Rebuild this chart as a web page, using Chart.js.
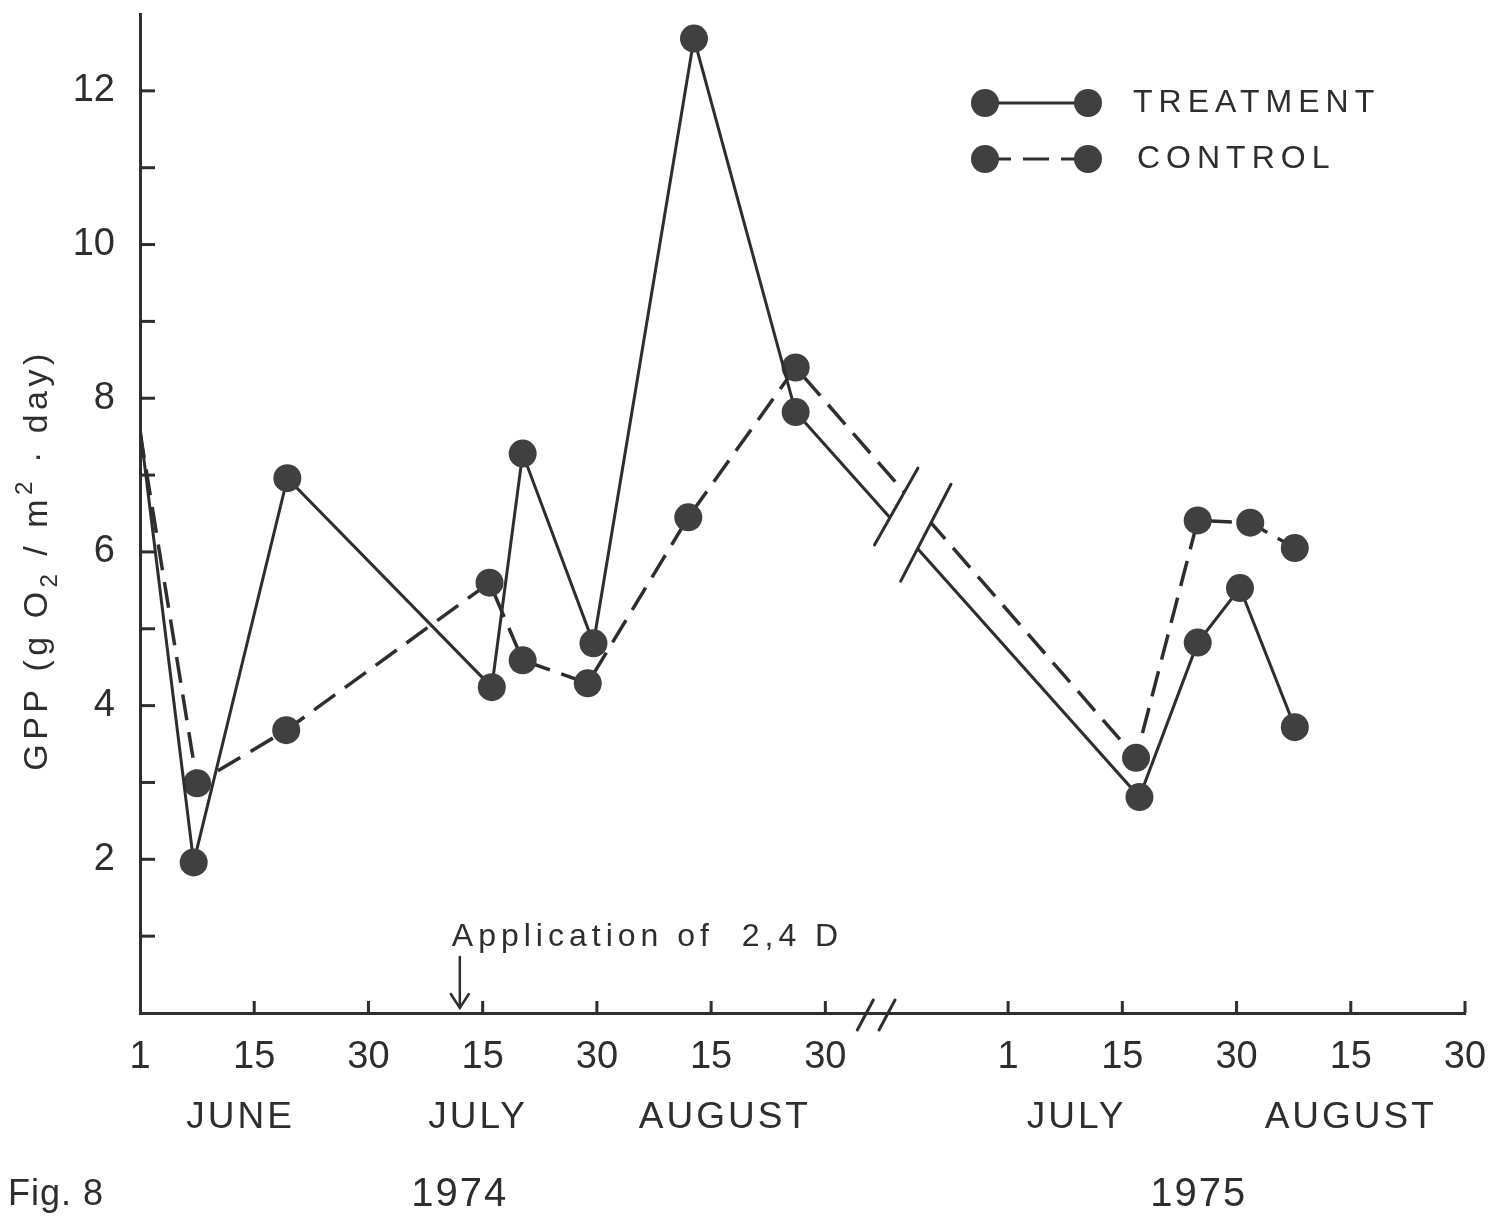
<!DOCTYPE html>
<html>
<head>
<meta charset="utf-8">
<script src="https://cdn.jsdelivr.net/npm/chart.js@4.4.0/dist/chart.umd.min.js"></script>
<style>
  html, body { margin: 0; padding: 0; background: #fff; }
  #wrap { width: 1497px; height: 1218px; }
</style>
</head>
<body>
<div id="wrap"><canvas id="gppChart" width="1497" height="1218"></canvas></div>
<script>
// ===== DATA =====
// x positions are in "half-month tick" units: 0 = 1 June 1974, each tick = one half month
const xTickPos = [0, 1, 2, 3, 4, 5, 6, 7.6, 8.6, 9.6, 10.6, 11.6];
const xTickLabels = ['1', '15', '30', '15', '30', '15', '30', '1', '15', '30', '15', '30'];
const yLabelled = [2, 4, 6, 8, 10, 12];

const treatmentX = [0, 0.47, 1.29, 3.08, 3.35, 3.97, 4.85, 5.74, 8.75, 9.26, 9.63, 10.11];
const treatmentY = [7.62, 1.96, 6.96, 4.24, 7.28, 4.81, 12.68, 7.82, 2.81, 4.82, 5.53, 3.72];
const controlX = [0, 0.50, 1.28, 3.06, 3.35, 3.92, 4.80, 5.74, 8.72, 9.26, 9.72, 10.11];
const controlY = [7.56, 2.99, 3.68, 5.60, 4.59, 4.29, 6.45, 8.40, 3.32, 6.41, 6.38, 6.05];

const monthLabels = ['JUNE', 'JULY', 'AUGUST', 'JULY', 'AUGUST'];
const monthPos = [0.88, 2.96, 5.12, 8.2, 10.6];
const yearLabels = ['1974', '1975'];
const yearPos = [2.8, 9.27];
const applicationPos = 2.8;   // arrow for application of 2,4 D

const FONT = "'Liberation Sans', Arial, sans-serif";
const INK = '#2e2e2e';
const DOT = '#404040';

function toPoints(xs, ys) {
    return xs.map(function(x, i) { return { x: x, y: ys[i] }; });
}
function markerSizes(xs) {
    // first value starts on the axis without a marker
    return xs.map(function(x, i) { return i === 0 ? 0 : 14; });
}

// ===== DECORATION PLUGIN =====
const decorPlugin = {
    id: 'decor',
    afterDatasetsDraw(chart) {
        const { ctx, scales: { x, y } } = chart;
        // break in the lines between 1974 and 1975
        const b1 = [x.getPixelForValue(6.81), y.getPixelForValue(7.09), x.getPixelForValue(6.43), y.getPixelForValue(6.09)];
        const b2 = [x.getPixelForValue(7.10), y.getPixelForValue(6.88), x.getPixelForValue(6.66), y.getPixelForValue(5.62)];
        ctx.save();
        ctx.fillStyle = '#fff';
        ctx.beginPath();
        ctx.moveTo(b1[0], b1[1]);
        ctx.lineTo(b2[0], b2[1]);
        ctx.lineTo(b2[2], b2[3]);
        ctx.lineTo(b1[2], b1[3]);
        ctx.closePath();
        ctx.fill();
        ctx.strokeStyle = INK;
        ctx.lineWidth = 3;
        ctx.lineCap = 'round';
        [b1, b2].forEach(function(b) {
            ctx.beginPath();
            ctx.moveTo(b[0], b[1]);
            ctx.lineTo(b[2], b[3]);
            ctx.stroke();
        });
        ctx.restore();
    },
    afterDraw(chart) {
        const { ctx, scales: { x, y }, chartArea } = chart;
        ctx.save();
        ctx.strokeStyle = INK;
        ctx.lineWidth = 3;
        ctx.lineCap = 'butt';

        // inner tick marks
        for (let v = 1; v <= 12; v++) {
            const py = y.getPixelForValue(v);
            ctx.beginPath();
            ctx.moveTo(chartArea.left, py);
            ctx.lineTo(chartArea.left + 15, py);
            ctx.stroke();
        }
        xTickPos.forEach(function(v, i) {
            if (i === 0) return;
            const px = x.getPixelForValue(v);
            ctx.beginPath();
            ctx.moveTo(px, chartArea.bottom);
            ctx.lineTo(px, chartArea.bottom - 12);
            ctx.stroke();
        });

        // axis break marks
        ctx.lineCap = 'round';
        [6.35, 6.54].forEach(function(v) {
            const px = x.getPixelForValue(v);
            ctx.beginPath();
            ctx.moveTo(px - 8, chartArea.bottom + 17);
            ctx.lineTo(px + 8, chartArea.bottom - 13);
            ctx.stroke();
        });

        // application arrow
        const ax = x.getPixelForValue(applicationPos);
        ctx.lineWidth = 2.5;
        ctx.beginPath();
        ctx.moveTo(ax, chartArea.bottom - 56);
        ctx.lineTo(ax, chartArea.bottom - 5);
        ctx.moveTo(ax - 9, chartArea.bottom - 19);
        ctx.lineTo(ax, chartArea.bottom - 5);
        ctx.lineTo(ax + 9, chartArea.bottom - 19);
        ctx.stroke();

        ctx.fillStyle = INK;
        ctx.textBaseline = 'middle';

        ctx.font = '32px ' + FONT;
        ctx.letterSpacing = '5px';
        ctx.textAlign = 'left';
        ctx.fillText('Application of  2,4 D', ax - 8, chartArea.bottom - 76);

        // month and year labels
        ctx.font = '37px ' + FONT;
        ctx.letterSpacing = '3px';
        ctx.textAlign = 'center';
        monthLabels.forEach(function(m, i) {
            ctx.fillText(m, x.getPixelForValue(monthPos[i]), 1118);
        });
        ctx.font = '40px ' + FONT;
        ctx.letterSpacing = '2px';
        yearLabels.forEach(function(t, i) {
            ctx.fillText(t, x.getPixelForValue(yearPos[i]), 1195);
        });
        ctx.textAlign = 'left';
        ctx.font = '36px ' + FONT;
        ctx.letterSpacing = '1px';
        ctx.fillText('Fig. 8', 8, 1195);

        // legend
        const rows = [
            { label: 'TREATMENT', ds: 0, y: 103, tx: 1133 },
            { label: 'CONTROL', ds: 1, y: 159, tx: 1137 }
        ];
        rows.forEach(function(r) {
            const set = chart.data.datasets[r.ds];
            ctx.strokeStyle = set.borderColor;
            ctx.lineWidth = 3;
            ctx.lineCap = 'butt';
            ctx.setLineDash(set.borderDash || []);
            ctx.beginPath();
            ctx.moveTo(985, r.y);
            ctx.lineTo(1088, r.y);
            ctx.stroke();
            ctx.setLineDash([]);
            ctx.fillStyle = DOT;
            [985, 1088].forEach(function(cx) {
                ctx.beginPath();
                ctx.arc(cx, r.y, 14, 0, Math.PI * 2);
                ctx.fill();
            });
            ctx.fillStyle = INK;
            ctx.font = '32px ' + FONT;
            ctx.letterSpacing = '6px';
            ctx.textAlign = 'left';
            ctx.fillText(r.label, r.tx, r.y);
        });

        // y axis title with sub/superscript
        const parts = [
            { t: 'GPP (g O', s: 34, dy: 0 },
            { t: '2', s: 24, dy: 12 },
            { t: ' / m', s: 34, dy: 0 },
            { t: '2', s: 24, dy: -13 },
            { t: ' \u00b7 day)', s: 34, dy: 0 }
        ];
        ctx.letterSpacing = '4.5px';
        let total = 0;
        parts.forEach(function(p) {
            ctx.font = p.s + 'px ' + FONT;
            p.w = ctx.measureText(p.t).width;
            total += p.w;
        });
        ctx.translate(38, 560);
        ctx.rotate(-Math.PI / 2);
        let cx = -total / 2;
        parts.forEach(function(p) {
            ctx.font = p.s + 'px ' + FONT;
            ctx.fillText(p.t, cx, p.dy);
            cx += p.w;
        });
        ctx.restore();
    }
};

// ===== CHART =====
new Chart(document.getElementById('gppChart'), {
    type: 'line',
    data: {
        datasets: [
            {
                label: 'TREATMENT',
                data: toPoints(treatmentX, treatmentY),
                borderColor: INK,
                borderWidth: 3,
                pointRadius: markerSizes(treatmentX),
                pointBackgroundColor: DOT,
                pointBorderWidth: 0,
                tension: 0
            },
            {
                label: 'CONTROL',
                data: toPoints(controlX, controlY),
                borderColor: INK,
                borderWidth: 3.5,
                borderDash: [26, 12],
                pointRadius: markerSizes(controlX),
                pointBackgroundColor: DOT,
                pointBorderWidth: 0,
                tension: 0
            }
        ]
    },
    options: {
        responsive: false,
        animation: false,
        devicePixelRatio: 1,
        layout: { padding: { top: 13, right: 32, left: 0, bottom: 0 } },
        plugins: {
            legend: { display: false },
            tooltip: { enabled: false }
        },
        scales: {
            x: {
                type: 'linear',
                min: 0,
                max: 11.6,
                afterBuildTicks: function(scale) {
                    scale.ticks = xTickPos.map(function(v) { return { value: v }; });
                },
                afterFit: function(scale) {
                    scale.height = 205;
                    scale.paddingLeft = 0;
                    scale.paddingRight = 0;
                },
                grid: { display: false, drawTicks: false },
                border: { display: true, color: INK, width: 3 },
                ticks: {
                    autoSkip: false,
                    maxRotation: 0,
                    padding: 22,
                    color: INK,
                    font: { family: FONT, size: 38 },
                    callback: function(value, index) { return xTickLabels[index]; }
                }
            },
            y: {
                min: 0,
                max: 13,
                afterFit: function(scale) {
                    scale.width = 140;
                    scale.paddingTop = 0;
                    scale.paddingBottom = 0;
                },
                grid: { display: false, drawTicks: false },
                border: { display: true, color: INK, width: 3 },
                ticks: {
                    stepSize: 1,
                    padding: 25,
                    color: INK,
                    font: { family: FONT, size: 38 },
                    callback: function(value) { return yLabelled.indexOf(value) >= 0 ? value : ''; }
                }
            }
        }
    },
    plugins: [decorPlugin]
});
</script>
</body>
</html>
